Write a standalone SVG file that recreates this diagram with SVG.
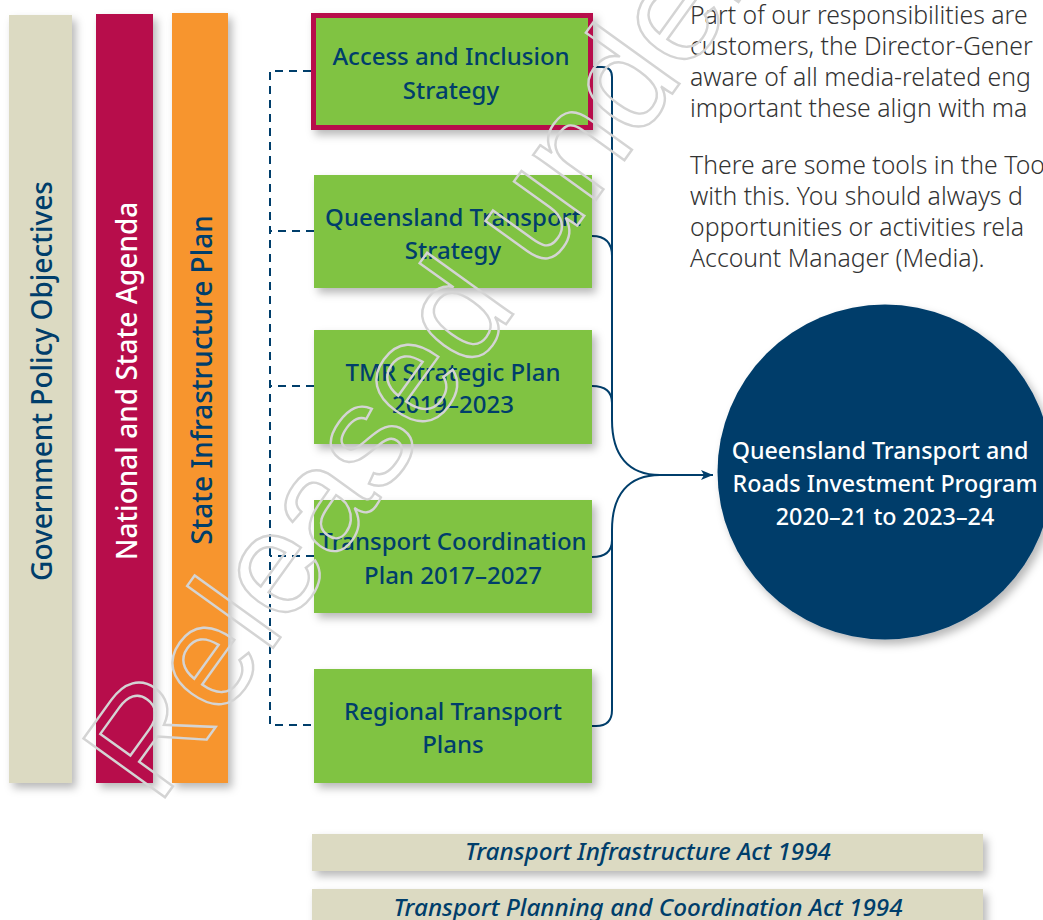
<svg xmlns="http://www.w3.org/2000/svg" width="1043" height="920" viewBox="0 0 1043 920">
<defs>
<filter id="sh" x="-30%" y="-30%" width="170%" height="170%">
<feDropShadow dx="4" dy="5" stdDeviation="4" flood-color="#000" flood-opacity="0.28"/>
</filter>
<marker id="arr" viewBox="0 0 12 10" refX="12" refY="5" markerWidth="12" markerHeight="10" markerUnits="userSpaceOnUse" orient="auto">
<path d="M0,0 L12,5 L0,10 L3,5 Z" fill="#003e6b"/>
</marker>
<style>
.t{font-family:"Noto Sans","Open Sans","DejaVu Sans",sans-serif;font-weight:500;}
.bar{font-size:28px;text-anchor:middle;}
.box{font-size:24px;text-anchor:middle;fill:#003e6b;}
.green{fill:#80c343;filter:url(#sh);}
.beige{fill:#dcdac2;}
.navy{fill:#003e6b;}
.body{font-family:"Noto Sans","Open Sans",sans-serif;font-weight:300;font-size:24.8px;fill:#333333;}
.act{font-size:24.3px;font-style:italic;text-anchor:middle;fill:#003e6b;}
.con{fill:none;stroke:#003e6b;stroke-width:2;}
.dash{fill:none;stroke:#003e6b;stroke-width:2;stroke-dasharray:8 6;}
</style>
</defs>
<rect width="1043" height="920" fill="#ffffff"/>

<g id="bar-government">
<rect x="9" y="15" width="63" height="768" class="beige" filter="url(#sh)"/>
<text class="t bar navy" transform="translate(52,381) rotate(-90)">Government Policy Objectives</text>
</g>
<g id="bar-national">
<rect x="96" y="14" width="57" height="769" fill="#b70b4b" filter="url(#sh)"/>
<text class="t bar" fill="#ffffff" font-size="27.4" transform="translate(137,381) rotate(-90)">National and State Agenda</text>
</g>
<g id="bar-state">
<rect x="172" y="13" width="56" height="770" fill="#f7952d" filter="url(#sh)"/>
<text class="t bar navy" transform="translate(212,380) rotate(-90)">State Infrastructure Plan</text>
</g>

<g id="connectors">
<path class="dash" d="M311,71 H270 V725 H314"/>
<path class="dash" d="M314,231 H270"/>
<path class="dash" d="M314,386 H270"/>
<path class="dash" d="M314,556 H270"/>
<path class="con" d="M593,67 H602 Q612,67 612,77 V420 C612,455 628,475 660,475 C628,475 612,495 612,530 V710 Q612,726 596,726 H592"/>
<path class="con" d="M592,236 C605,236 612,243 612,256"/>
<path class="con" d="M592,386 C605,386 612,392 612,403"/>
<path class="con" d="M592,557 C605,557 612,551 612,540"/>
<path class="con" d="M658,475 H713" marker-end="url(#arr)"/>
</g>

<g id="box-access">
<rect x="313.5" y="15.5" width="277" height="112" fill="#80c343" stroke="#b70b4b" stroke-width="5" filter="url(#sh)"/>
<text class="t box" x="451" y="65">Access and Inclusion</text>
<text class="t box" x="451" y="99">Strategy</text>
</g>
<g id="box-qts">
<rect x="314" y="175" width="278" height="113" class="green"/>
<text class="t box" x="453" y="226">Queensland Transport</text>
<text class="t box" x="453" y="259">Strategy</text>
</g>
<g id="box-tmr">
<rect x="314" y="330" width="278" height="114" class="green"/>
<text class="t box" x="453" y="381">TMR Strategic Plan</text>
<text class="t box" x="453" y="413">2019–2023</text>
</g>
<g id="box-tcp">
<rect x="314" y="500" width="278" height="113" class="green"/>
<text class="t box" x="453" y="550">Transport Coordination</text>
<text class="t box" x="453" y="584">Plan 2017–2027</text>
</g>
<g id="box-rtp">
<rect x="314" y="669" width="278" height="114" class="green"/>
<text class="t box" x="453" y="720">Regional Transport</text>
<text class="t box" x="453" y="753">Plans</text>
</g>

<g id="circle-qtrip">
<circle cx="885" cy="472" r="167.5" fill="#003e6b" filter="url(#sh)"/>
<text class="t" font-size="23.3" text-anchor="middle" fill="#ffffff" x="880" y="459">Queensland Transport and</text>
<text class="t" font-size="23.3" text-anchor="middle" fill="#ffffff" x="885" y="492">Roads Investment Program</text>
<text class="t" font-size="23.3" text-anchor="middle" fill="#ffffff" x="885" y="525">2020–21 to 2023–24</text>
</g>

<g id="body-text">
<text class="body" x="690" y="24">Part of our responsibilities are</text>
<text class="body" x="690" y="55">customers, the Director-Gener</text>
<text class="body" x="690" y="86">aware of all media-related eng</text>
<text class="body" x="690" y="117">important these align with ma</text>
<text class="body" x="690" y="174">There are some tools in the Too</text>
<text class="body" x="690" y="205">with this. You should always d</text>
<text class="body" x="690" y="236">opportunities or activities rela</text>
<text class="body" x="690" y="267">Account Manager (Media).</text>
</g>

<g id="act-infrastructure">
<rect x="312" y="834" width="671" height="37" class="beige" filter="url(#sh)"/>
<text class="t act" x="648" y="860">Transport Infrastructure Act 1994</text>
</g>
<g id="act-planning">
<rect x="312" y="889" width="671" height="40" class="beige" filter="url(#sh)"/>
<text class="t act" x="648" y="916">Transport Planning and Coordination Act 1994</text>
</g>

<g id="watermark">
<text transform="translate(158,807) rotate(-54.2)" font-family="Liberation Sans, Arial, sans-serif" font-size="146" fill="none" stroke="#d4d4d4" stroke-width="2.4">Released under</text>
</g>
</svg>
